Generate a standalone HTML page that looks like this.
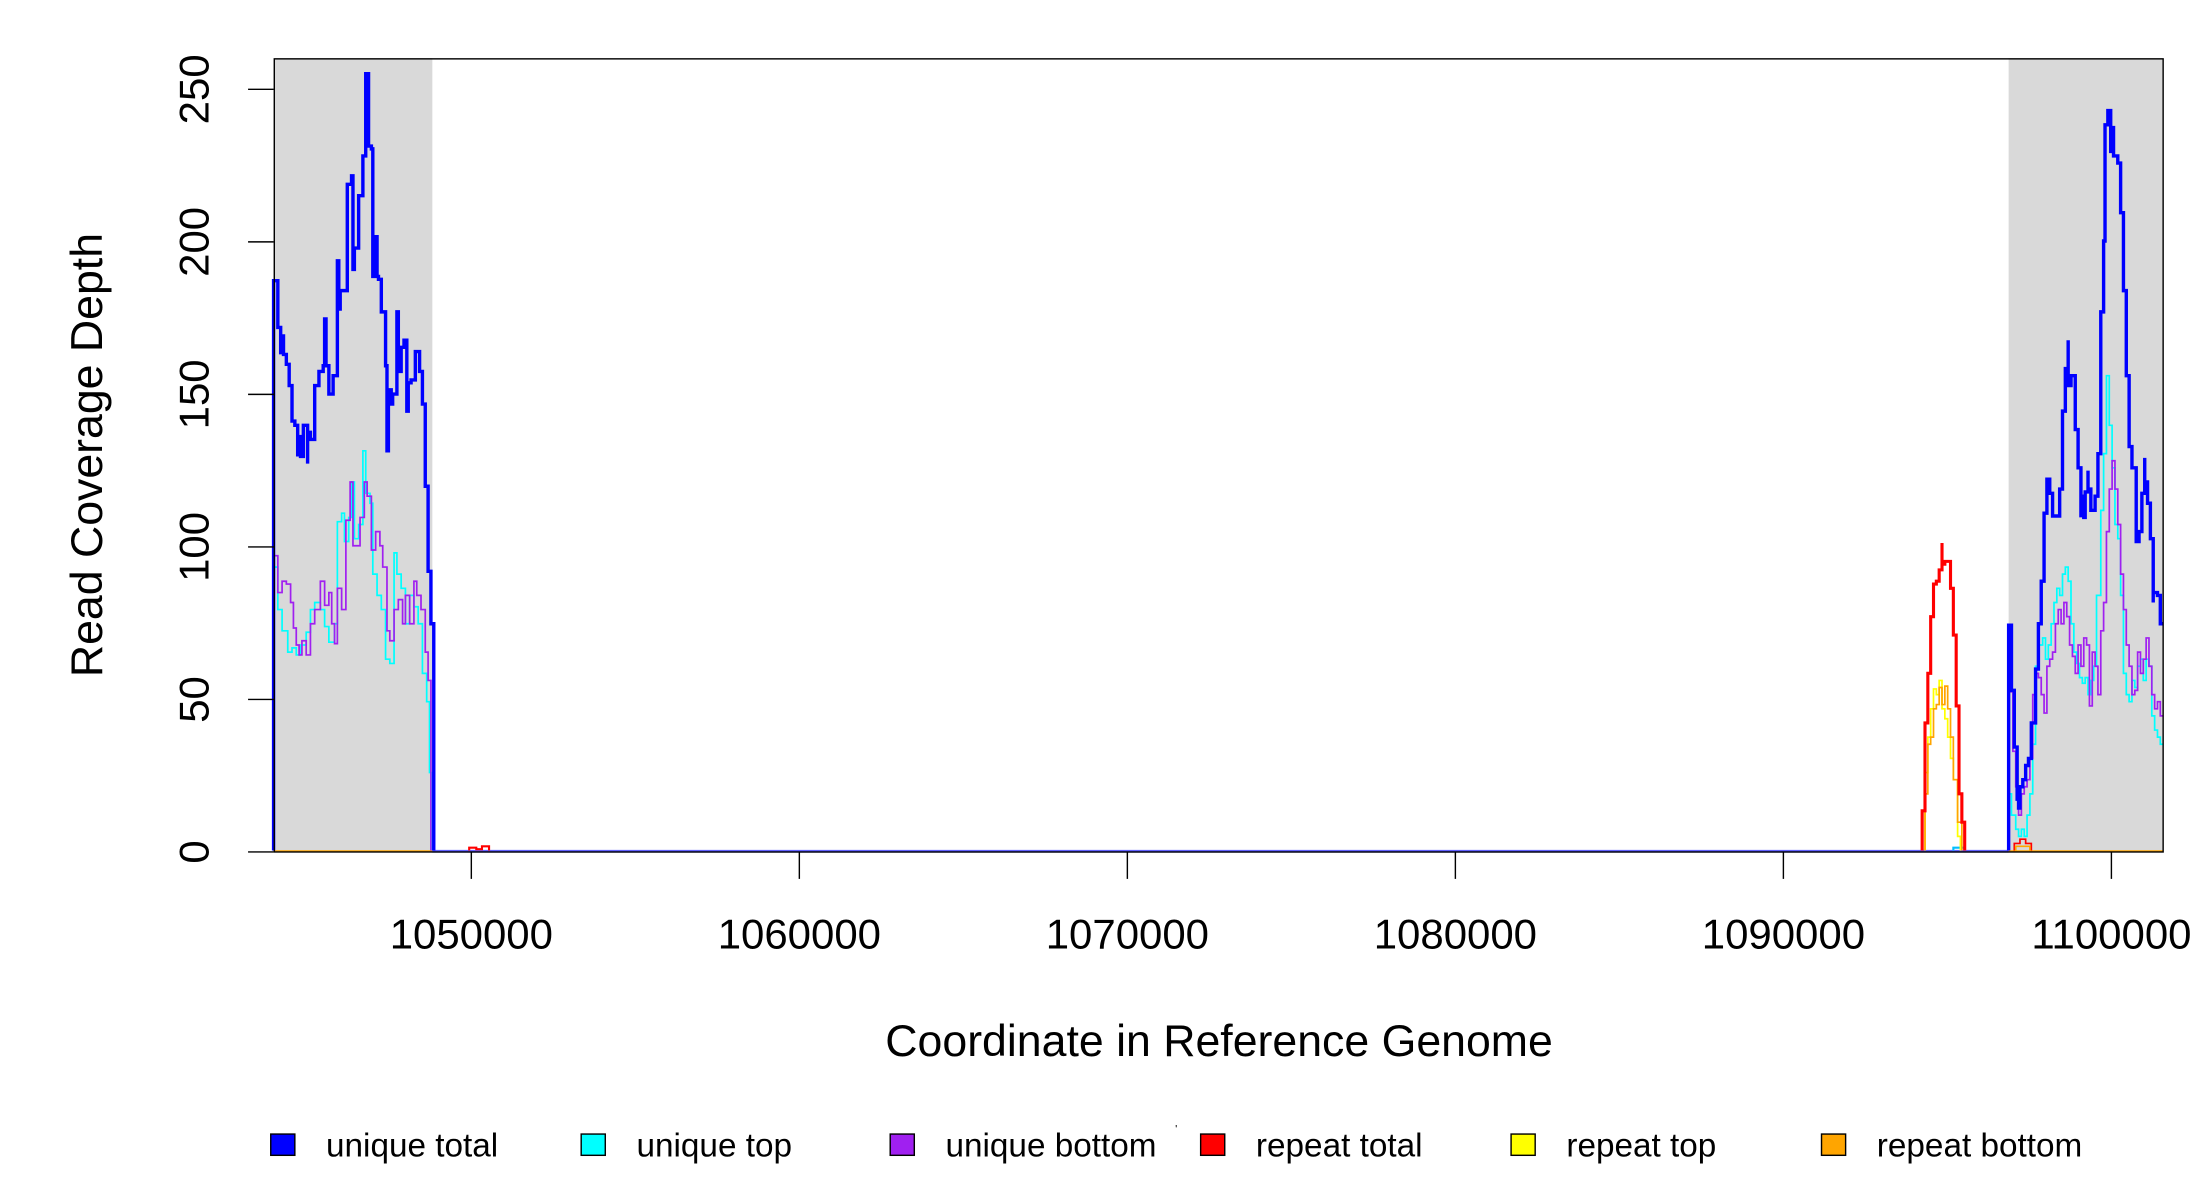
<!DOCTYPE html>
<html><head><meta charset="utf-8"><style>
html,body{margin:0;padding:0;background:#fff;}
svg{display:block;}
text{font-family:"Liberation Sans",Arial,sans-serif;fill:#000;}
</style></head><body>
<svg width="2200" height="1200" viewBox="0 0 1552 846.5" xmlns="http://www.w3.org/2000/svg">
<rect x="0" y="0" width="1552" height="846.5" fill="#fff"/>
<!-- gray regions -->
<rect x="193" y="41" width="112" height="560" fill="#d9d9d9"/>
<rect x="1417" y="41" width="109" height="560" fill="#d9d9d9"/>
<!-- baselines -->
<line x1="193" y1="600.5" x2="305" y2="600.5" stroke="#ffa500" stroke-width="1.5"/>
<line x1="1417" y1="600.5" x2="1526" y2="600.5" stroke="#ffa500" stroke-width="1.5"/>
<line x1="305" y1="600.5" x2="1417" y2="600.5" stroke="#6060ff" stroke-width="2"/>
<path d="M331 600 V598 H336 V599 H340 V597 H345 V600" fill="none" stroke="#f00" stroke-width="1.5"/>
<path d="M1378 600 V598 H1386 V600" fill="none" stroke="#00bfff" stroke-width="1.5"/>
<path d="M1421 600 V595 H1425 V592 H1429 V595 H1433 V600" fill="none" stroke="#f00" stroke-width="1.2"/>
<path d="M1422 600 V597 H1432 V600" fill="none" stroke="#ffa500" stroke-width="1.2"/>

<!-- left cyan -->
<path fill="none" stroke="#00ffff" stroke-width="1.2" d="M193 600 V400 H196 V430 H199 V445 H203 V460 H206 V457 H209 V462 H212 V455 H216 V446 H219 V430 H222 V425 H226 V430 H229 V442 H232 V453 H236 V440 H238 V368 H241 V362 H243 V382 H246 V365 H248 V340 H250 V380 H253 V370 H256 V318 H258 V348 H261 V355 H263 V405 H266 V420 H269 V430 H272 V465 H275 V468 H278 V390 H280 V405 H283 V415 H286 V440 H289 V420 H292 V428 H295 V440 H298 V475 H301 V495 H303 V545 H305 V600"/>
<!-- left purple -->
<path fill="none" stroke="#a020f0" stroke-width="1.2" d="M193 600 V392 H196 V418 H199 V410 H202 V412 H205 V425 H207 V443 H209 V455 H211 V462 H213 V452 H216 V462 H219 V440 H222 V430 H226 V410 H229 V427 H232 V418 H234 V440 H236 V454 H238 V415 H241 V430 H244 V367 H247 V340 H249 V385 H252 V385 H254 V365 H257 V340 H259 V350 H262 V388 H265 V375 H268 V385 H270 V400 H273 V445 H275 V452 H278 V430 H281 V423 H284 V440 H286 V420 H289 V440 H292 V410 H294 V420 H297 V430 H300 V460 H302 V480 H304 V600"/>
<!-- left blue -->
<path fill="none" stroke="#0000ff" stroke-width="2.4" d="M193 600 V198 H196 V231 H198 V250 V237 H200 V250 H202 V257 H204 V272 H206 V297 H208 V300 H210 V322 V308 H212 V322 H214 V300 H217 V327 V305 H219 V310 H222 V272 H225 V262 H228 V258 H229 V225 H230 V258 H232 V278 H235 V265 H238 V184 H239 V218 H240 V205 H243 V205 H245 V130 H248 V124 H249 V190 H250 V175 H253 V138 H256 V110 H258 V52 H260 V103 H262 V105 H263 V195 H264 V167 H266 V195 H267 V197 H269 V220 H272 V258 H273 V318 H274 V275 H276 V285 H277 V278 H280 V220 H281 V262 H283 V245 H285 V240 H287 V290 H288 V270 H290 V268 H293 V248 H296 V262 H298 V285 H300 V343 H302 V403 H304 V440 H306 V600"/>

<!-- repeat peak -->
<path fill="none" stroke="#ffff00" stroke-width="1.2" d="M1358 600 V545 H1360 V520 H1362 V500 H1364 V486 H1366 V490 H1368 V480 H1370 V500 H1372 V507 H1374 V520 H1376 V535 H1378 V550 H1381 V590 H1383 V600"/>
<path fill="none" stroke="#ffa500" stroke-width="1.2" d="M1358 600 V560 H1360 V525 H1362 V520 H1364 V500 H1366 V497 H1368 V485 H1370 V497 H1372 V484 H1374 V500 H1376 V520 H1378 V550 H1381 V580 H1384 V600"/>
<path fill="none" stroke="#ff0000" stroke-width="2.2" d="M1356 600 V572 H1358 V510 H1360 V475 H1362 V435 H1364 V412 H1366 V410 H1368 V402 H1370 V383 V398 H1372 V396 H1375 V396 H1376 V415 H1378 V448 H1380 V498 H1382 V560 H1384 V580 H1386 V600"/>

<!-- right cyan -->
<path fill="none" stroke="#00ffff" stroke-width="1.2" d="M1417 600 V560 H1419 V575 H1422 V585 H1424 V590 H1426 V585 H1428 V590 H1430 V575 H1432 V560 H1434 V525 H1436 V470 H1438 V455 H1441 V450 H1443 V465 H1445 V455 H1447 V440 H1449 V425 H1451 V415 H1453 V420 H1455 V405 H1457 V400 H1459 V410 H1461 V440 H1463 V460 H1465 V468 H1467 V478 H1469 V482 H1471 V478 H1473 V490 H1475 V480 H1477 V470 H1479 V420 H1482 V360 H1484 V320 H1486 V265 H1488 V300 H1490 V330 H1492 V370 H1494 V380 H1496 V420 H1498 V475 H1500 V490 H1502 V495 H1504 V480 H1506 V485 H1508 V470 H1510 V465 H1512 V480 H1514 V465 H1516 V470 H1518 V505 H1520 V515 H1522 V520 H1524 V525 H1526"/>
<!-- right purple -->
<path fill="none" stroke="#a020f0" stroke-width="1.2" d="M1417 600 V488 H1420 V530 H1422 V555 H1424 V575 H1426 V560 H1428 V555 H1430 V550 H1432 V535 H1434 V490 H1436 V475 H1438 V478 H1440 V490 H1442 V503 H1444 V470 H1446 V465 H1448 V460 H1450 V440 H1452 V430 H1454 V440 H1456 V425 H1458 V435 H1460 V455 H1462 V463 H1464 V475 H1466 V455 H1468 V470 H1470 V450 H1472 V455 H1474 V498 H1476 V460 H1478 V470 H1480 V490 H1482 V445 H1484 V425 H1486 V375 H1488 V345 H1490 V325 H1492 V345 H1494 V370 H1496 V405 H1498 V430 H1500 V455 H1502 V470 H1504 V490 H1506 V487 H1508 V460 H1510 V475 H1512 V465 H1514 V450 H1516 V470 H1518 V490 H1520 V500 H1522 V495 H1524 V505 H1526"/>
<!-- right blue -->
<path fill="none" stroke="#0000ff" stroke-width="2.4" d="M1417 600 V441 H1418 V487 V441 H1419 V487 H1421 V527 H1423 V565 V555 H1424 V570 H1425 V555 H1427 V550 H1429 V540 H1431 V535 H1433 V510 H1436 V472 H1438 V440 H1440 V410 H1442 V362 H1444 V338 H1446 V348 H1448 V364 H1451 V364 H1453 V345 H1455 V290 H1457 V260 H1459 V240 V272 H1461 V265 H1462 V265 H1464 V303 H1466 V330 H1468 V365 V350 H1470 V365 H1471 V347 H1473 V332 V345 H1475 V360 H1478 V350 H1480 V320 H1482 V220 H1484 V170 H1485 V88 H1487 V78 H1489 V108 V90 H1491 V110 H1494 V115 H1496 V150 H1498 V205 H1500 V265 H1502 V315 H1504 V330 H1507 V368 V382 H1509 V375 H1511 V348 H1513 V323 V340 H1515 V355 H1517 V380 H1519 V425 V418 H1522 V420 H1524 V440 H1526"/>

<!-- plot box -->
<rect x="193.5" y="41.5" width="1332.5" height="559.5" fill="none" stroke="#000" stroke-width="1"/>

<!-- y axis -->
<g stroke="#000" stroke-width="1">
<line x1="175" y1="601" x2="193" y2="601"/>
<line x1="175" y1="493.4" x2="193" y2="493.4"/>
<line x1="175" y1="385.8" x2="193" y2="385.8"/>
<line x1="175" y1="278.2" x2="193" y2="278.2"/>
<line x1="175" y1="170.6" x2="193" y2="170.6"/>
<line x1="175" y1="63" x2="193" y2="63"/>
</g>
<g font-size="29.6" text-anchor="middle">
<text transform="translate(147,601) rotate(-90)">0</text>
<text transform="translate(147,493.4) rotate(-90)">50</text>
<text transform="translate(147,385.8) rotate(-90)">100</text>
<text transform="translate(147,278.2) rotate(-90)">150</text>
<text transform="translate(147,170.6) rotate(-90)">200</text>
<text transform="translate(147,63) rotate(-90)">250</text>
</g>
<text transform="translate(72,321) rotate(-90)" font-size="31.5" text-anchor="middle">Read Coverage Depth</text>

<!-- x axis -->
<g stroke="#000" stroke-width="1">
<line x1="332.5" y1="601" x2="332.5" y2="620"/>
<line x1="563.9" y1="601" x2="563.9" y2="620"/>
<line x1="795.3" y1="601" x2="795.3" y2="620"/>
<line x1="1026.7" y1="601" x2="1026.7" y2="620"/>
<line x1="1258.1" y1="601" x2="1258.1" y2="620"/>
<line x1="1489.5" y1="601" x2="1489.5" y2="620"/>
</g>
<g font-size="29.6" text-anchor="middle">
<text x="332.5" y="669">1050000</text>
<text x="563.9" y="669">1060000</text>
<text x="795.3" y="669">1070000</text>
<text x="1026.7" y="669">1080000</text>
<text x="1258.1" y="669">1090000</text>
<text x="1489.5" y="669">1100000</text>
</g>
<text x="860" y="745" font-size="31.5" text-anchor="middle">Coordinate in Reference Genome</text>

<!-- legend -->
<g stroke="#000" stroke-width="1">
<rect x="191" y="800" width="17" height="15" fill="#0000ff"/>
<rect x="410" y="800" width="17" height="15" fill="#00ffff"/>
<rect x="628" y="800" width="17" height="15" fill="#a020f0"/>
<rect x="847" y="800" width="17" height="15" fill="#ff0000"/>
<rect x="1066" y="800" width="17" height="15" fill="#ffff00"/>
<rect x="1285" y="800" width="17" height="15" fill="#ffa500"/>
</g>
<g font-size="23.5">
<text x="230" y="816">unique total</text>
<text x="449" y="816">unique top</text>
<text x="667" y="816">unique bottom</text>
<text x="886" y="816">repeat total</text>
<text x="1105" y="816">repeat top</text>
<text x="1324" y="816">repeat bottom</text>
</g>
<text x="829" y="799" font-size="8">'</text>
</svg>
</body></html>
